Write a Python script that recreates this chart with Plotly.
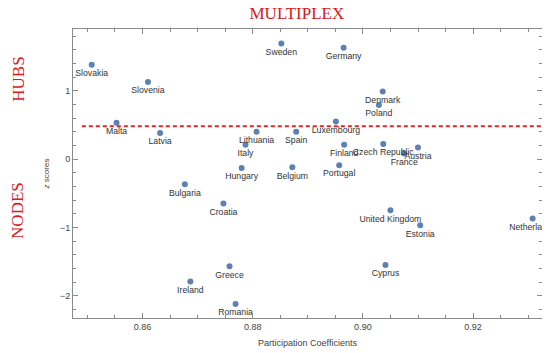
import plotly.graph_objects as go

# Participation coefficients (x) and z scores (y) per country
countries = ['Slovakia', 'Slovenia', 'Sweden', 'Germany', 'Malta', 'Latvia', 'Lithuania',
             'Spain', 'Italy', 'Luxembourg', 'Denmark', 'Poland', 'Finland', 'Czech Republic',
             'Austria', 'France', 'Portugal', 'Hungary', 'Belgium', 'Bulgaria', 'Croatia',
             'United Kingdom', 'Estonia', 'Netherlands', 'Cyprus', 'Greece', 'Ireland', 'Romania']
participation = [0.8508, 0.8610, 0.8852, 0.8965, 0.8553, 0.8632, 0.8807,
                 0.8879, 0.8787, 0.8951, 0.9036, 0.9029, 0.8966, 0.9037,
                 0.9100, 0.9075, 0.8957, 0.8780, 0.8872, 0.8677, 0.8747,
                 0.9050, 0.9104, 0.9308, 0.9041, 0.8758, 0.8687, 0.8769]
zscores = [1.38, 1.13, 1.69, 1.63, 0.53, 0.38, 0.40,
           0.40, 0.21, 0.55, 0.99, 0.79, 0.21, 0.22,
           0.17, 0.08, -0.09, -0.13, -0.12, -0.37, -0.65,
           -0.75, -0.97, -0.87, -1.55, -1.57, -1.79, -2.12]
hub_threshold = 0.48

fig = go.Figure()
fig.add_trace(go.Scatter(
    x=participation, y=zscores, mode='markers+text', text=countries,
    textposition='bottom center',
    textfont=dict(family='Liberation Sans, Arial', size=8.7, color='#333333'),
    marker=dict(color='#5E81B5', size=6),
    cliponaxis=True, showlegend=False,
))

# threshold between hubs and nodes
fig.add_shape(type='line', xref='x', yref='y', x0=0.849, x1=0.9325,
              y0=hub_threshold, y1=hub_threshold,
              line=dict(color='#e0262a', width=2, dash='4px,3px'))

axis_common = dict(showgrid=False, zeroline=False, showline=True, mirror='ticks',
                   linecolor='#8a8a8a', linewidth=1, ticks='inside', ticklen=5,
                   tickcolor='#8a8a8a', tickfont=dict(family='Liberation Sans, Arial', size=9, color='#444444'))

fig.update_xaxes(range=[0.8474, 0.9325], tickvals=[0.86, 0.88, 0.90, 0.92],
                 ticktext=['0.86', '0.88', '0.90', '0.92'],
                 minor=dict(dtick=0.005, tick0=0.86, ticks='inside', ticklen=3, tickcolor='#8a8a8a'),
                 title=dict(text='Participation Coefficients', standoff=8,
                            font=dict(family='Liberation Sans, Arial', size=9, color='#444444')),
                 **axis_common)
fig.update_yaxes(range=[-2.326, 1.904], tickvals=[-2, -1, 0, 1],
                 minor=dict(dtick=0.2, tick0=0, ticks='inside', ticklen=3, tickcolor='#8a8a8a'),
                 title=dict(text='<i>z</i> scores', standoff=9,
                            font=dict(family='Liberation Sans, Arial', size=8, color='#444444')),
                 **axis_common)

red_serif = dict(family='Liberation Serif, Times New Roman', size=17, color='#d7191c')
fig.add_annotation(text='HUBS', xref='paper', yref='paper', x=-0.117, y=0.825,
                   xanchor='center', yanchor='middle',
                   textangle=-90, showarrow=False, font=red_serif)
fig.add_annotation(text='NODES', xref='paper', yref='paper', x=-0.117, y=0.371,
                   xanchor='center', yanchor='middle',
                   textangle=-90, showarrow=False, font=red_serif)

# page body adds 8px around the figure, so size it to fill the window
fig.update_layout(
    width=542, height=345,
    margin=dict(l=65, r=7, t=21, b=33),
    paper_bgcolor='white', plot_bgcolor='white',
    title=dict(text='MULTIPLEX', x=0.533, xanchor='center', y=0.984, yanchor='middle',
               font=red_serif),
)

fig.write_html("out.html")
